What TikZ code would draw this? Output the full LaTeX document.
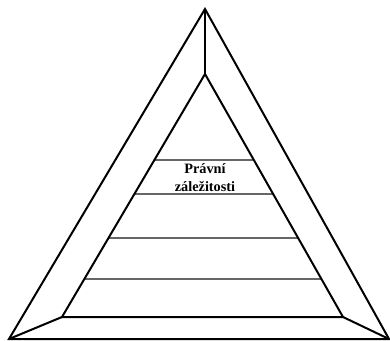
\documentclass[tikz,border=0pt]{standalone}
\usepackage{fontspec}
\setmainfont{Liberation Serif}
\usetikzlibrary{calc}
\begin{document}
\begin{tikzpicture}[x=1pt,y=-1pt,
  edge/.style={line width=2pt,line join=miter,black},
  band/.style={line width=1.1pt,gray!80!black},
  lbl/.style={font=\fontsize{14.3}{17.5}\selectfont\bfseries,align=center,inner sep=0pt}]
\useasboundingbox (0,0) rectangle (390,340);
\coordinate (oa) at (205,9);
\coordinate (ol) at (9,339);
\coordinate (or) at (389,339);
\coordinate (ia) at (205,74);
\coordinate (il) at (62,317);
\coordinate (ir) at (343,317);
% bands
\foreach \yy/\nm in {160/a,194/b,238/c,279/d}{
  \pgfmathsetmacro{\t}{(\yy-74)/243}
  \draw[band] ($(ia)!\t!(il)$) coordinate (l\nm) -- ($(ia)!\t!(ir)$) coordinate (r\nm);
}
\draw[edge] (oa) -- (ol) -- (or) -- cycle;
\draw[edge] (ia) -- (il) -- (ir) -- cycle;
\draw[edge] (oa) -- (ia);
\draw[edge] (ol) -- (il);
\draw[edge] (or) -- (ir);
\node[lbl] (t) at (205,177.5) {Právní\\záležitosti};
\end{tikzpicture}
\end{document}
